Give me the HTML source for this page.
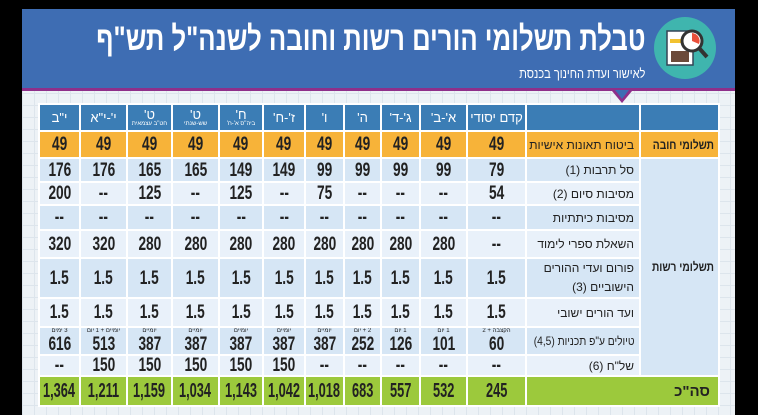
<!DOCTYPE html>
<html><head><meta charset="utf-8"><style>
*{margin:0;padding:0;box-sizing:border-box}
body{width:758px;height:415px;background:#000;position:relative;overflow:hidden;font-family:"Liberation Sans","DejaVu Sans",sans-serif}
#bg{position:absolute;left:22px;top:9px;width:713px;height:406px;background-color:#edf2f6;background-image:linear-gradient(#dde5ec 1px,transparent 1px),linear-gradient(90deg,#dde5ec 1px,transparent 1px);background-size:12px 12px}
#ban{position:absolute;left:22px;top:9px;width:713px;height:82px;background:#3e6db3;border-bottom:3px solid #8e2f8a}
#notch{position:absolute;left:612px;top:91px;width:0;height:0;border-left:10px solid transparent;border-right:10px solid transparent;border-top:12px solid #8e2f8a}
#notch2{position:absolute;left:615px;top:90px;width:0;height:0;border-left:7px solid transparent;border-right:7px solid transparent;border-top:9px solid #3e6db3}
#title{position:absolute;right:113px;top:20px;color:#fff;font-weight:bold;font-size:34px;direction:rtl;white-space:nowrap;transform:scaleX(0.755);transform-origin:right center}
#sub{position:absolute;right:113px;top:66px;color:#fff;font-size:13px;direction:rtl;white-space:nowrap;transform:scaleX(0.85);transform-origin:right center}
#icon{position:absolute;left:654px;top:17px;width:62px;height:62px;border-radius:50%;background:#3fb5ae}
table{position:absolute;left:38px;top:103px;border-collapse:collapse;direction:rtl;table-layout:fixed;width:680px}
td{border:2px solid #fff;text-align:center;font-weight:bold;font-size:19px;color:#222;padding:0;line-height:1;white-space:nowrap;overflow:hidden}
td b{display:inline-block;transform:scaleX(0.72);margin:0 -12px}
tr.h td{background:#3b7db5;color:#fff;font-weight:normal;font-size:13px;height:27px}
tr.h td small{display:block;font-size:6px}
tr.o td{background:#f7b339;height:27px}
tr.a td{background:#d6e6f5}
tr.b td{background:#e9f1fa}
td.l{text-align:right;font-weight:normal;font-size:12px;padding-right:5px;color:#222}
td.s{background:#d6e6f5!important;font-size:13px;text-align:right;padding-right:4px}
td.s i,td.l i{font-style:normal;display:inline-block;transform:scaleX(0.85);transform-origin:right center}
tr.o td.s{background:#f7b339!important}
tr.g td{background:#9cc93c;font-size:20px;height:30px}
tr.g td b{transform:scaleX(0.64)}
td small{display:block;font-size:6px;font-weight:normal;margin-bottom:1px}
</style></head><body>
<div id="bg"></div>
<div id="ban"></div>
<div id="notch"></div><div id="notch2"></div>
<div id="title">טבלת תשלומי הורים רשות וחובה לשנה"ל תש"ף</div>
<div id="sub">לאישור ועדת החינוך בכנסת</div>
<div id="icon"><svg width="62" height="62"><rect x="13" y="14" width="26" height="34" fill="#fff" stroke="#345" stroke-width="1.5"/><rect x="16" y="22" width="18" height="4" fill="#f2c230"/><rect x="17" y="34" width="18" height="11" fill="#6b4a3a"/><circle cx="38" cy="24" r="10" fill="#fff" stroke="#333" stroke-width="3"/><path d="M38 24 L38 16 A8 8 0 0 1 45 27 Z" fill="#e94f3a"/><line x1="45" y1="31" x2="53" y2="40" stroke="#333" stroke-width="4"/></svg></div>
<table>
<colgroup><col style="width:79px"><col style="width:114px"><col style="width:59px"><col style="width:47px"><col style="width:39px"><col style="width:37px"><col style="width:39px"><col style="width:42px"><col style="width:44px"><col style="width:47px"><col style="width:45px"><col style="width:47px"><col style="width:41px"></colgroup>
<tr class="h"><td></td><td></td><td>קדם יסודי</td><td>א'-ב'</td><td>ג'-ד'</td><td>ה'</td><td>ו'</td><td>ז'-ח'</td><td>ח'<small>ביה"ס א'-ח'</small></td><td>ט'<small>שש-שנתי</small></td><td>ט'<small>חט"ב עצמאית</small></td><td>י'-י"א</td><td>י"ב</td></tr>
<tr class="o"><td class="s" style="font-weight:bold;font-size:12px"><i>תשלומי חובה</i></td><td class="l">ביטוח תאונות אישיות</td><td><b>49</b></td><td><b>49</b></td><td><b>49</b></td><td><b>49</b></td><td><b>49</b></td><td><b>49</b></td><td><b>49</b></td><td><b>49</b></td><td><b>49</b></td><td><b>49</b></td><td><b>49</b></td></tr>
<tr class="a" style="height:24px"><td class="s" rowspan="8" style="font-weight:bold;font-size:12px"><i>תשלומי רשות</i></td><td class="l">סל תרבות (1)</td><td><b>79</b></td><td><b>99</b></td><td><b>99</b></td><td><b>99</b></td><td><b>99</b></td><td><b>149</b></td><td><b>149</b></td><td><b>165</b></td><td><b>165</b></td><td><b>176</b></td><td><b>176</b></td></tr>
<tr class="b" style="height:23px"><td class="l">מסיבות סיום (2)</td><td><b>54</b></td><td><b>--</b></td><td><b>--</b></td><td><b>--</b></td><td><b>75</b></td><td><b>--</b></td><td><b>125</b></td><td><b>--</b></td><td><b>125</b></td><td><b>--</b></td><td><b>200</b></td></tr>
<tr class="a" style="height:25px"><td class="l">מסיבות כיתתיות</td><td><b>--</b></td><td><b>--</b></td><td><b>--</b></td><td><b>--</b></td><td><b>--</b></td><td><b>--</b></td><td><b>--</b></td><td><b>--</b></td><td><b>--</b></td><td><b>--</b></td><td><b>--</b></td></tr>
<tr class="b" style="height:28px"><td class="l">השאלת ספרי לימוד</td><td><b>--</b></td><td><b>280</b></td><td><b>280</b></td><td><b>280</b></td><td><b>280</b></td><td><b>280</b></td><td><b>280</b></td><td><b>280</b></td><td><b>280</b></td><td><b>320</b></td><td><b>320</b></td></tr>
<tr class="a" style="height:39px"><td class="l" style="line-height:1.6">פורום ועדי ההורים<br>הישוביים (3)</td><td><b>1.5</b></td><td><b>1.5</b></td><td><b>1.5</b></td><td><b>1.5</b></td><td><b>1.5</b></td><td><b>1.5</b></td><td><b>1.5</b></td><td><b>1.5</b></td><td><b>1.5</b></td><td><b>1.5</b></td><td><b>1.5</b></td></tr>
<tr class="b" style="height:29px"><td class="l">ועד הורים ישובי</td><td><b>1.5</b></td><td><b>1.5</b></td><td><b>1.5</b></td><td><b>1.5</b></td><td><b>1.5</b></td><td><b>1.5</b></td><td><b>1.5</b></td><td><b>1.5</b></td><td><b>1.5</b></td><td><b>1.5</b></td><td><b>1.5</b></td></tr>
<tr class="a" style="height:26px"><td class="l"><i>טיולים ע"פ תכניות (4,5)</i></td><td><small>הקצבה + 2</small><b>60</b></td><td><small>1 יום</small><b>101</b></td><td><small>1 יום</small><b>126</b></td><td><small>2 + יום</small><b>252</b></td><td><small>יומיים</small><b>387</b></td><td><small>יומיים</small><b>387</b></td><td><small>יומיים</small><b>387</b></td><td><small>יומיים</small><b>387</b></td><td><small>יומיים</small><b>387</b></td><td><small>יומיים + 1 יום</small><b>513</b></td><td><small>3 ימים</small><b>616</b></td></tr>
<tr class="b" style="height:21px"><td class="l">של"ח (6)</td><td><b>--</b></td><td><b>--</b></td><td><b>--</b></td><td><b>--</b></td><td><b>--</b></td><td><b>150</b></td><td><b>150</b></td><td><b>150</b></td><td><b>150</b></td><td><b>150</b></td><td><b>--</b></td></tr>
<tr class="g"><td colspan="2" class="l" style="font-size:15px;font-weight:bold;padding-right:8px">סה"כ</td><td><b>245</b></td><td><b>532</b></td><td><b>557</b></td><td><b>683</b></td><td><b>1,018</b></td><td><b>1,042</b></td><td><b>1,143</b></td><td><b>1,034</b></td><td><b>1,159</b></td><td><b>1,211</b></td><td><b>1,364</b></td></tr>
</table>
</body></html>
